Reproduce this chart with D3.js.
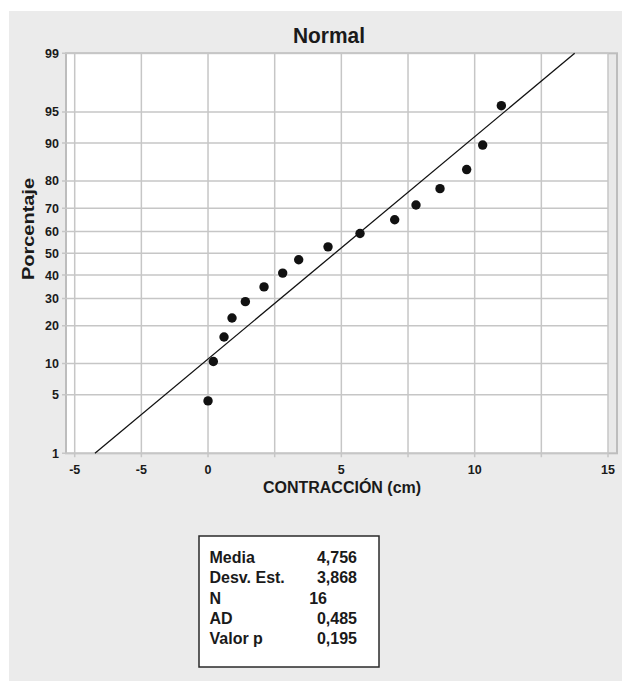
<!DOCTYPE html>
<html>
<head>
<meta charset="utf-8">
<script src="https://cdn.jsdelivr.net/npm/d3@7"></script>
<style>
  body { margin: 0; background: #fff; }
  text { font-family: "Liberation Sans", Arial, sans-serif; font-weight: bold; fill: #1a1a1a; }
</style>
</head>
<body>
<svg width="622" height="681"></svg>
<script>
// Data
const contraccion = [0, 0.2, 0.6, 0.9, 1.4, 2.1, 2.8, 3.4, 4.5, 5.7, 7.0, 7.8, 8.7, 9.7, 10.3, 11.0];
const porcentaje = [4.3, 10.4, 16.5, 22.6, 28.7, 34.8, 40.9, 47.0, 53.0, 59.1, 65.2, 71.3, 77.4, 83.5, 89.6, 95.7];

// fitted normal line (ends at 1% and 99%)
const fitX = [-4.24, 13.75];
const fitPct = [1, 99];

const xTickValues = [-5, -2.5, 0, 2.5, 5, 7.5, 10, 12.5, 15];
const xTickLabels = ["-5", "-5", "0", "", "5", "", "10", "", "15"];
const yTickValues = [1, 5, 10, 20, 30, 40, 50, 60, 70, 80, 90, 95, 99];

const statLabels = ["Media", "Desv. Est.", "N", "AD", "Valor p"];
const statValues = ["4,756", "3,868", "16", "0,485", "0,195"];

// inverse normal CDF (Acklam)
function probit(p) {
  const a = [-3.969683028665376e+01, 2.209460984245205e+02, -2.759285104469687e+02, 1.383577518672690e+02, -3.066479806614716e+01, 2.506628277459239e+00];
  const b = [-5.447609879822406e+01, 1.615858368580409e+02, -1.556989798598866e+02, 6.680131188771972e+01, -1.328068155288572e+01];
  const c = [-7.784894002430293e-03, -3.223964580411365e-01, -2.400758277161838e+00, -2.549732539343734e+00, 4.374664141464968e+00, 2.938163982698783e+00];
  const d = [7.784695709041462e-03, 3.224671290700398e-01, 2.445134137142996e+00, 3.754408661907416e+00];
  const pl = 0.02425;
  let q, r;
  if (p < pl) {
    q = Math.sqrt(-2 * Math.log(p));
    return (((((c[0]*q+c[1])*q+c[2])*q+c[3])*q+c[4])*q+c[5]) / ((((d[0]*q+d[1])*q+d[2])*q+d[3])*q+1);
  } else if (p <= 1 - pl) {
    q = p - 0.5; r = q * q;
    return (((((a[0]*r+a[1])*r+a[2])*r+a[3])*r+a[4])*r+a[5])*q / (((((b[0]*r+b[1])*r+b[2])*r+b[3])*r+b[4])*r+1);
  } else {
    q = Math.sqrt(-2 * Math.log(1 - p));
    return -(((((c[0]*q+c[1])*q+c[2])*q+c[3])*q+c[4])*q+c[5]) / ((((d[0]*q+d[1])*q+d[2])*q+d[3])*q+1);
  }
}

const svg = d3.select("svg");

// grey panel behind everything
svg.append("rect").attr("x", 9).attr("y", 11).attr("width", 613).attr("height", 670).attr("fill", "#ebebeb");

const plot = { left: 66, right: 617, top: 53.3, bottom: 453.3 };

const x = d3.scaleLinear().domain([-5, 15]).range([74.7, 608]);
const zy = d3.scaleLinear().domain([probit(0.01), probit(0.99)]).range([plot.bottom, plot.top]);
const y = p => zy(probit(p / 100));

// plot background + frame
svg.append("rect")
  .attr("x", plot.left).attr("y", plot.top)
  .attr("width", plot.right - plot.left).attr("height", plot.bottom - plot.top)
  .attr("fill", "#e9e9e9").attr("stroke", "#bdbdbd").attr("stroke-width", 2);
svg.append("rect")
  .attr("x", plot.left + 1).attr("y", plot.top + 1)
  .attr("width", x(15) - plot.left - 1).attr("height", plot.bottom - plot.top - 2)
  .attr("fill", "#fff");

// gridlines
const grid = svg.append("g").attr("stroke", "#c6c6c6").attr("stroke-width", 1.5);
grid.selectAll(".vg").data(xTickValues).join("line")
  .attr("x1", d => x(d)).attr("x2", d => x(d))
  .attr("y1", plot.top).attr("y2", plot.bottom + 4);
grid.selectAll(".hg").data(yTickValues).join("line")
  .attr("x1", plot.left - 4).attr("x2", x(15))
  .attr("y1", d => y(d)).attr("y2", d => y(d));

// axis tick labels
svg.append("g").selectAll("text").data(xTickValues).join("text")
  .attr("x", d => x(d)).attr("y", 474)
  .attr("text-anchor", "middle").attr("font-size", 12.5)
  .text((d, i) => xTickLabels[i]);

svg.append("g").selectAll("text").data(yTickValues).join("text")
  .attr("x", 59).attr("y", d => y(d)).attr("dy", "0.36em")
  .attr("text-anchor", "end").attr("font-size", 12.5)
  .text(d => d);

// fitted line
const fit = fitX.map((v, i) => ({ x: v, p: fitPct[i] }));
svg.append("path")
  .datum(fit)
  .attr("fill", "none").attr("stroke", "#111").attr("stroke-width", 1.3)
  .attr("d", d3.line().x(d => x(d.x)).y(d => y(d.p)));

// points
svg.append("g").selectAll("circle").data(contraccion).join("circle")
  .attr("cx", d => x(d)).attr("cy", (d, i) => y(porcentaje[i]))
  .attr("r", 4.7).attr("fill", "#111");

// titles
svg.append("text").attr("x", 329).attr("y", 43)
  .attr("text-anchor", "middle").attr("font-size", 22)
  .attr("textLength", 72).attr("lengthAdjust", "spacingAndGlyphs")
  .text("Normal");

svg.append("text").attr("transform", "translate(34,229) rotate(-90)")
  .attr("text-anchor", "middle").attr("font-size", 16)
  .attr("textLength", 102).attr("lengthAdjust", "spacingAndGlyphs")
  .text("Porcentaje");

svg.append("text").attr("x", 342).attr("y", 493)
  .attr("text-anchor", "middle").attr("font-size", 16)
  .text("CONTRACCIÓN (cm)");

// stats box
svg.append("rect").attr("x", 199).attr("y", 536).attr("width", 180).attr("height", 131)
  .attr("fill", "#fff").attr("stroke", "#2a2a2a").attr("stroke-width", 1.5);

const stats = svg.append("g").attr("font-size", 16);
stats.selectAll(".lab").data(statLabels).join("text")
  .attr("x", 209.5).attr("y", (d, i) => 563 + i * 20.3)
  .text(d => d);
stats.selectAll(".val").data(statValues).join("text")
  .attr("x", (d, i) => statLabels[i] === "N" ? 327 : 357)
  .attr("y", (d, i) => 563 + i * 20.3)
  .attr("text-anchor", "end")
  .text(d => d);
</script>
</body>
</html>
